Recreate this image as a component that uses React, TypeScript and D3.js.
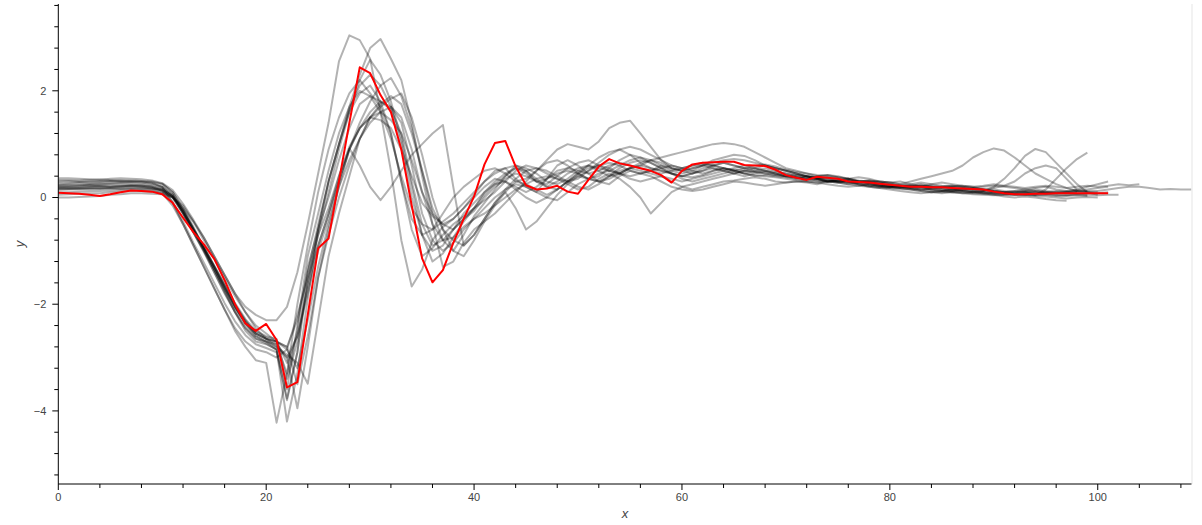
import { useMemo } from "react";
import * as d3 from "d3";

const WIDTH = 1202;
const HEIGHT = 525;
const MARGIN = { top: 4, right: 10.5, bottom: 41, left: 58.3 };

const X_DOMAIN: [number, number] = [0, 109.02];
const Y_DOMAIN: [number, number] = [-5.37, 3.627];
const X_TICKS = [0, 20, 40, 60, 80, 100];
const Y_TICKS = [-4, -2, 0, 2];

// gray runs, one value per integer x
const run01 = [
  0.36, 0.36, 0.35, 0.34, 0.33, 0.35, 0.36, 0.35, 0.34, 0.32,
  0.27, 0.14, -0.12, -0.42, -0.75, -1.1, -1.45, -1.8, -2.05, -2.2,
  -2.3, -2.3, -2.05, -1.4, -0.5, 0.45, 1.4, 2.55, 3.04, 2.95,
  2.6, 1.6, 0.5, -0.8, -1.67, -1.35, -0.8, -0.55, -0.4, -0.2,
  0.05, 0.3, 0.5, 0.55, 0.35, 0.2, 0.1, 0.35, 0.6, 0.7,
  0.6, 0.45, 0.3, 0.25, 0.4, 0.5, 0.45, 0.5, 0.6, 0.55,
  0.5, 0.55, 0.6, 0.55, 0.5, 0.45, 0.5, 0.55, 0.5, 0.45,
  0.4, 0.35, 0.4, 0.35, 0.3, 0.28, 0.3, 0.25, 0.22, 0.2,
  0.18, 0.2, 0.22, 0.2, 0.15, 0.12, 0.15, 0.12, 0.1, 0.08,
  0.1, 0.08, 0.05, 0.06, 0.04, 0.05, 0.03, 0.04, 0.06, 0.05,
];
const run02 = [
  0.3, 0.31, 0.3, 0.29, 0.3, 0.31, 0.32, 0.31, 0.3, 0.28,
  0.2, -0.1, -0.5, -0.9, -1.3, -1.7, -2.1, -2.5, -2.8, -3.05,
  -3.1, -4.22, -3.3, -2.0, -0.9, 0.1, 0.9, 1.5, 1.95, 2.2,
  1.95, 1.7, 1.2, 0.3, -0.6, -1.1, -0.95, -0.7, -0.5, -0.35,
  -0.2, 0.05, 0.25, 0.4, 0.6, 0.5, 0.3, 0.2, 0.3, 0.45,
  0.55, 0.6, 0.5, 0.4, 0.45, 0.55, 0.6, 0.7, 0.75, 0.8,
  0.85, 0.9, 0.95, 1.0, 1.02, 1.0, 0.95, 0.85, 0.75, 0.65,
  0.55, 0.5, 0.45, 0.4, 0.42, 0.4, 0.35, 0.3, 0.3, 0.28,
  0.25, 0.22, 0.2, 0.22, 0.2, 0.18, 0.2, 0.22, 0.2, 0.15,
  0.12, 0.1, 0.12, 0.15, 0.18, 0.2, 0.15, 0.12, 0.15, 0.2,
  0.25, 0.3,
];
const run03 = [
  0.25, 0.26, 0.27, 0.26, 0.27, 0.28, 0.29, 0.3, 0.3, 0.28,
  0.25, 0.1, -0.2, -0.55, -0.95, -1.35, -1.75, -2.15, -2.5, -2.7,
  -2.75, -2.85, -4.2, -3.3, -1.9, -0.6, 0.3, 1.0, 1.7, 2.3,
  2.8, 2.97, 2.6, 2.2, 1.4, 0.4, -0.5, -1.3, -1.2, -0.85,
  -0.6, -0.45, -0.3, -0.1, 0.1, 0.3, 0.5, 0.7, 0.9, 1.0,
  0.95, 0.9, 1.05, 1.3, 1.4, 1.44, 1.2, 0.95, 0.7, 0.55,
  0.5, 0.45, 0.5, 0.55, 0.5, 0.45, 0.4, 0.45, 0.5, 0.45,
  0.4, 0.38, 0.35, 0.4, 0.42, 0.38, 0.35, 0.3, 0.32, 0.3,
  0.28, 0.3, 0.25, 0.22, 0.25, 0.28, 0.25, 0.22, 0.2, 0.22,
  0.25, 0.22, 0.2, 0.18, 0.2, 0.22, 0.2, 0.18, 0.2, 0.22,
  0.2, 0.22, 0.25, 0.23, 0.25,
];
const run04 = [
  0.17, 0.18, 0.18, 0.19, 0.2, 0.2, 0.21, 0.22, 0.2, 0.18,
  0.15, 0.02, -0.25, -0.6, -0.95, -1.3, -1.7, -2.05, -2.35, -2.55,
  -2.65, -2.8, -3.0, -3.95, -2.8, -1.5, -0.6, 0.2, 0.9, 1.4,
  1.8, 2.1, 2.24, 1.9, 1.3, 0.5, -0.3, -0.8, -1.0, -0.7,
  -0.35, -0.1, 0.15, 0.4, 0.55, 0.5, 0.35, 0.2, 0.15, 0.3,
  0.45, 0.6, 0.75, 0.85, 0.9, 0.8, 0.65, 0.55, 0.5, 0.45,
  0.4, 0.45, 0.55, 0.6, 0.65, 0.6, 0.55, 0.5, 0.48, 0.45,
  0.42, 0.38, 0.35, 0.32, 0.3, 0.32, 0.35, 0.3, 0.28, 0.25,
  0.22, 0.2, 0.18, 0.2, 0.22, 0.2, 0.16, 0.14, 0.12, 0.1,
  0.08, 0.1, 0.12, 0.1, 0.08, 0.1, 0.12, 0.1, 0.1,
];
const run05 = [
  0.19, 0.2, 0.2, 0.21, 0.22, 0.21, 0.22, 0.23, 0.22, 0.2,
  0.12, -0.08, -0.45, -0.85, -1.22, -1.6, -1.98, -2.32, -2.58, -2.75,
  -2.82, -2.9, -3.77, -2.9, -1.6, -0.7, 0.1, 0.9, 1.6, 2.2,
  2.58, 2.3, 1.8, 1.1, 0.2, -0.7, -1.2, -1.05, -0.75, -0.45,
  -0.2, 0.1, 0.3, 0.45, 0.55, 0.45, 0.3, 0.25, 0.4, 0.55,
  0.65, 0.7, 0.6, 0.5, 0.45, 0.55, 0.65, 0.7, 0.65, 0.55,
  0.5, 0.55, 0.6, 0.65, 0.7, 0.72, 0.7, 0.65, 0.6, 0.55,
  0.5, 0.45, 0.4, 0.38, 0.35, 0.3, 0.32, 0.3, 0.28, 0.25,
  0.22, 0.2, 0.18, 0.15, 0.17, 0.2, 0.22, 0.2, 0.18, 0.15,
  0.12, 0.1, 0.08, 0.1, 0.05, 0.15, 0.35, 0.55, 0.72, 0.84,
];
const run06 = [
  0.14, 0.15, 0.15, 0.16, 0.16, 0.17, 0.18, 0.17, 0.16, 0.15,
  0.12, 0.0, -0.3, -0.65, -1.0, -1.35, -1.7, -2.05, -2.35, -2.6,
  -2.7, -2.8, -2.95, -3.1, -3.49, -2.3, -1.1, -0.3, 0.4, 1.1,
  1.5, 1.7, 1.85, 1.95, 1.5, 0.8, 0.0, -0.6, -1.0, -1.1,
  -0.8, -0.45, -0.15, 0.1, 0.3, 0.25, 0.15, 0.05, 0.15, 0.3,
  0.4, 0.35, 0.3, 0.35, 0.45, 0.55, 0.6, 0.55, 0.5, 0.45,
  0.4, 0.45, 0.5, 0.6, 0.65, 0.6, 0.55, 0.55, 0.6, 0.55,
  0.5, 0.45, 0.4, 0.35, 0.3, 0.28, 0.25, 0.28, 0.3, 0.25,
  0.22, 0.2, 0.22, 0.25, 0.2, 0.15, 0.12, 0.15, 0.18, 0.15,
  0.12, 0.1, 0.08, 0.1, 0.12, 0.1, 0.08, 0.1, 0.12, 0.1,
  0.1,
];
const run07 = [
  0.17, 0.17, 0.18, 0.18, 0.17, 0.18, 0.19, 0.2, 0.19, 0.17,
  0.13, 0.0, -0.3, -0.65, -1.0, -1.4, -1.8, -2.15, -2.45, -2.65,
  -2.7, -2.75, -3.3, -2.5, -1.3, -0.6, 0.0, 0.7, 1.3, 1.75,
  1.9, 1.8, 1.65, 1.2, 0.3, -0.5, -0.9, -0.8, -0.6, -0.4,
  -0.25, 0.0, 0.2, 0.35, 0.45, 0.4, 0.3, 0.35, 0.45, 0.5,
  0.45, 0.35, 0.3, 0.4, 0.5, 0.55, 0.5, 0.45, 0.4, 0.35,
  0.3, 0.35, 0.4, 0.45, 0.5, 0.55, 0.6, 0.55, 0.5, 0.48,
  0.45, 0.42, 0.4, 0.38, 0.35, 0.3, 0.28, 0.25, 0.22, 0.2,
  0.18, 0.16, 0.15, 0.12, 0.1, 0.08, 0.1, 0.12, 0.1, 0.08,
  0.05, 0.02, 0.0, 0.02, 0.0, -0.03, -0.05, -0.06,
];
const run08 = [
  0.05, 0.06, 0.07, 0.08, 0.08, 0.1, 0.11, 0.12, 0.12, 0.11,
  0.09, 0.0, -0.2, -0.45, -0.75, -1.1, -1.45, -1.8, -2.15, -2.45,
  -2.65, -2.75, -3.0, -2.6, -1.8, -1.0, -0.4, 0.3, 0.9, 1.3,
  1.6, 1.8, 1.7, 1.5, 0.9, 0.1, -0.5, -0.8, -0.75, -0.55,
  -0.4, -0.2, 0.0, 0.15, 0.25, 0.2, 0.1, 0.0, -0.05, 0.1,
  0.25, 0.35, 0.45, 0.5, 0.45, 0.4, 0.45, 0.5, 0.55, 0.6,
  0.55, 0.5, 0.45, 0.5, 0.55, 0.5, 0.45, 0.4, 0.42, 0.4,
  0.38, 0.35, 0.32, 0.35, 0.38, 0.35, 0.3, 0.28, 0.25, 0.22,
  0.2, 0.18, 0.2, 0.22, 0.2, 0.18, 0.15, 0.12, 0.1, 0.12,
  0.15, 0.12, 0.1, 0.12, 0.15, 0.12, 0.1, 0.08, 0.1, 0.12,
  0.12, 0.15, 0.18, 0.2, 0.2, 0.18, 0.15, 0.16, 0.15, 0.15,
];
const run09 = [
  0.23, 0.24, 0.24, 0.25, 0.25, 0.26, 0.27, 0.27, 0.26, 0.24,
  0.2, 0.05, -0.25, -0.6, -0.95, -1.3, -1.65, -2.0, -2.3, -2.55,
  -2.65, -2.7, -2.8, -2.3, -1.4, -0.7, -0.2, 0.4, 0.92, 0.6,
  0.2, -0.05, 0.2, 0.5, 0.8, 1.0, 1.2, 1.36, 0.2, -0.9,
  -0.7, -0.4, -0.1, 0.1, -0.2, -0.6, -0.45, -0.2, 0.05, 0.25,
  0.4, 0.5, 0.6, 0.65, 0.6, 0.5, 0.45, 0.4, 0.3, 0.2,
  0.15, 0.12, 0.15, 0.2, 0.25, 0.3, 0.28, 0.25, 0.22, 0.25,
  0.28, 0.3, 0.28, 0.25, 0.3, 0.35, 0.3, 0.25, 0.2, 0.18,
  0.2, 0.22, 0.18, 0.15, 0.12, 0.1, 0.12, 0.15, 0.12, 0.1,
  0.08, 0.06, 0.05, 0.04, 0.05, 0.06, 0.04, 0.03, 0.04, 0.03,
];
const run10 = [
  0.28, 0.28, 0.29, 0.3, 0.3, 0.31, 0.3, 0.29, 0.28, 0.26,
  0.2, 0.05, -0.28, -0.62, -0.98, -1.35, -1.72, -2.08, -2.38, -2.6,
  -2.7, -2.85, -3.6, -2.4, -1.1, -0.3, 0.5, 1.2, 1.7, 2.0,
  1.9, 1.6, 1.1, 0.4, -0.2, -0.5, -0.6, -0.45, -0.3, -0.1,
  0.1, 0.3, 0.45, 0.55, 0.6, 0.55, 0.45, 0.3, 0.25, 0.35,
  0.5, 0.6, 0.55, 0.5, 0.6, 0.7, 0.75, 0.7, 0.6, 0.5,
  0.45, 0.5, 0.6, 0.7, 0.75, 0.8, 0.78, 0.7, 0.6, 0.55,
  0.5, 0.45, 0.4, 0.35, 0.3, 0.32, 0.35, 0.38, 0.35, 0.3,
  0.28, 0.25, 0.3, 0.35, 0.4, 0.45, 0.5, 0.6, 0.75, 0.85,
  0.92, 0.88, 0.75, 0.6, 0.45, 0.35, 0.25, 0.18, 0.12, 0.1,
  0.08, 0.1,
];
const run11 = [
  0.0, 0.0, 0.01, 0.02, 0.03, 0.05, 0.06, 0.08, 0.08, 0.07,
  0.06, 0.0, -0.15, -0.45, -0.8, -1.15, -1.5, -1.85, -2.15, -2.4,
  -2.55, -2.7, -2.85, -3.2, -2.3, -1.3, -0.5, 0.2, 0.7, 1.1,
  1.4, 1.6, 1.7, 1.4, 0.6, -0.3, -0.8, -1.0, -0.85, -0.6,
  -0.4, -0.3, -0.15, 0.0, 0.15, 0.25, 0.35, 0.4, 0.35, 0.25,
  0.15, 0.2, 0.35, 0.45, 0.35, 0.2, 0.0, -0.3, -0.1, 0.1,
  0.2, 0.25, 0.3, 0.35, 0.4, 0.45, 0.5, 0.48, 0.45, 0.42,
  0.4, 0.38, 0.35, 0.32, 0.3, 0.28, 0.25, 0.22, 0.2, 0.18,
  0.15, 0.12, 0.1, 0.08, 0.1, 0.12, 0.1, 0.08, 0.1, 0.12,
  0.2, 0.35, 0.55, 0.78, 0.91, 0.85, 0.65, 0.45, 0.25, 0.1,
  0.05,
];
const run12 = [
  0.33, 0.33, 0.32, 0.33, 0.34, 0.33, 0.32, 0.32, 0.31, 0.3,
  0.26, 0.1, -0.22, -0.58, -0.92, -1.28, -1.62, -1.98, -2.28, -2.5,
  -2.6, -2.65, -3.4, -2.7, -1.6, -0.6, 0.3, 1.0, 1.6, 1.95,
  2.1, 1.8, 1.2, 0.3, -0.4, -0.7, -0.6, -0.3, 0.0, 0.2,
  0.35, 0.5, 0.55, 0.45, 0.3, 0.35, 0.5, 0.65, 0.7, 0.6,
  0.45, 0.35, 0.4, 0.55, 0.7, 0.8, 0.75, 0.65, 0.55, 0.45,
  0.4, 0.38, 0.42, 0.5, 0.55, 0.5, 0.45, 0.42, 0.4, 0.38,
  0.35, 0.32, 0.3, 0.28, 0.3, 0.32, 0.3, 0.28, 0.25, 0.22,
  0.2, 0.22, 0.25, 0.28, 0.25, 0.22, 0.2, 0.18, 0.15, 0.15,
  0.18, 0.22, 0.3, 0.45, 0.55, 0.6, 0.55, 0.35, 0.15,
];
const run13 = [
  0.2, 0.2, 0.21, 0.22, 0.21, 0.2, 0.21, 0.22, 0.22, 0.2,
  0.16, 0.03, -0.27, -0.6, -0.95, -1.3, -1.68, -2.05, -2.35, -2.55,
  -2.65, -2.7, -3.1, -2.6, -1.7, -0.9, -0.3, 0.4, 0.95, 1.3,
  1.5, 1.6, 1.45, 1.2, 0.7, 0.1, -0.3, -0.5, -0.6, -0.4,
  -0.2, -0.05, 0.1, 0.3, 0.5, 0.6, 0.55, 0.45, 0.35, 0.3,
  0.35, 0.5, 0.65, 0.8, 0.9, 0.95, 0.9, 0.8, 0.7, 0.6,
  0.55, 0.6, 0.65, 0.6, 0.55, 0.5, 0.45, 0.5, 0.55, 0.5,
  0.45, 0.4, 0.38, 0.35, 0.32, 0.3, 0.28, 0.3, 0.32, 0.3,
  0.28, 0.25, 0.22, 0.2, 0.18, 0.2, 0.22, 0.2, 0.18, 0.2,
  0.22, 0.2, 0.18, 0.15, 0.12, 0.1, 0.08, 0.1, 0.12, 0.15,
  0.18, 0.2,
];
const run14 = [
  0.1, 0.1, 0.11, 0.12, 0.12, 0.13, 0.14, 0.15, 0.14, 0.13,
  0.08, -0.15, -0.5, -0.9, -1.3, -1.7, -2.1, -2.45, -2.7, -2.85,
  -2.9, -3.0, -2.85, -2.2, -1.5, -0.9, -0.3, 0.3, 0.9, 1.3,
  1.5, 1.45, 1.3, 0.9, 0.4, -0.1, -0.35, -0.5, -0.4, -0.2,
  0.0, 0.2, 0.35, 0.3, 0.15, 0.0, -0.1, 0.0, 0.15, 0.3,
  0.45, 0.55, 0.6, 0.55, 0.45, 0.35, 0.3, 0.35, 0.4, 0.3,
  0.2, 0.15, 0.2, 0.25, 0.3, 0.32, 0.35, 0.38, 0.35, 0.3,
  0.28, 0.3, 0.3, 0.28, 0.25, 0.22, 0.2, 0.22, 0.25, 0.22,
  0.2, 0.18, 0.15, 0.12, 0.1, 0.12, 0.15, 0.18, 0.15, 0.12,
  0.1, 0.08, 0.1, 0.12, 0.1, 0.08, 0.1, 0.12, 0.14, 0.12,
];
const run15 = [
  0.17, 0.16, 0.16, 0.17, 0.18, 0.17, 0.16, 0.17, 0.18, 0.17,
  0.14, 0.02, -0.25, -0.58, -0.92, -1.28, -1.65, -2.02, -2.32, -2.52,
  -2.62, -2.7, -2.8, -3.5, -2.6, -1.5, -0.7, 0.0, 0.6, 1.1,
  1.5, 1.75, 1.9, 1.75, 1.2, 0.5, -0.2, -0.6, -0.8, -0.9,
  -0.7, -0.4, -0.1, 0.15, 0.35, 0.5, 0.55, 0.5, 0.4, 0.3,
  0.2, 0.15, 0.25, 0.4, 0.55, 0.65, 0.7, 0.65, 0.55, 0.45,
  0.35, 0.3, 0.35, 0.4, 0.45, 0.5, 0.55, 0.6, 0.62, 0.58,
  0.52, 0.48, 0.45, 0.42, 0.4, 0.38, 0.35, 0.32, 0.3, 0.28,
  0.25, 0.22, 0.2, 0.18, 0.15, 0.12, 0.1, 0.08, 0.06, 0.05,
  0.04, 0.05, 0.06, 0.05, 0.03, 0.02, 0.0, -0.02, 0.0, 0.01,
  0.0,
];
const run16 = [
  0.22, 0.22, 0.23, 0.24, 0.24, 0.25, 0.25, 0.24, 0.23, 0.21,
  0.17, 0.02, -0.3, -0.66, -1.02, -1.4, -1.78, -2.14, -2.44, -2.64,
  -2.74, -2.85, -3.8, -2.9, -1.4, -0.5, 0.3, 1.0, 1.65, 2.1,
  2.3, 2.1, 1.7, 1.0, 0.0, -0.7, -1.0, -0.9, -0.6, -0.3,
  -0.1, 0.1, 0.25, 0.3, 0.2, 0.1, 0.2, 0.35, 0.5, 0.55,
  0.5, 0.45, 0.5, 0.6, 0.65, 0.6, 0.55, 0.5, 0.45, 0.5,
  0.55, 0.6, 0.62, 0.6, 0.55, 0.52, 0.5, 0.48, 0.45, 0.42,
  0.4, 0.42, 0.4, 0.36, 0.32, 0.3, 0.32, 0.3, 0.26, 0.22,
  0.2, 0.18, 0.16, 0.15, 0.16, 0.15, 0.12, 0.1, 0.08, 0.07,
  0.06, 0.05, 0.06, 0.08, 0.1, 0.08, 0.06, 0.05, 0.06, 0.05,
  0.04, 0.05, 0.05,
];

// highlighted run
const redRun = [
  0.09, 0.08, 0.07, 0.05, 0.03, 0.06, 0.1, 0.13, 0.12, 0.11,
  0.06, -0.1, -0.38, -0.65, -0.88, -1.15, -1.55, -2.0, -2.36, -2.5,
  -2.37, -2.67, -3.56, -3.46, -2.2, -0.95, -0.77, 0.3, 1.4, 2.44,
  2.33, 1.92, 1.6, 0.9, -0.15, -1.14, -1.59, -1.36, -0.85, -0.4,
  0.02, 0.62, 1.02, 1.06, 0.58, 0.23, 0.15, 0.17, 0.22, 0.11,
  0.07, 0.33, 0.58, 0.72, 0.64, 0.6, 0.55, 0.5, 0.42, 0.28,
  0.5, 0.62, 0.65, 0.66, 0.67, 0.67, 0.61, 0.6, 0.59, 0.52,
  0.42, 0.37, 0.33, 0.39, 0.37, 0.35, 0.3, 0.29, 0.28, 0.26,
  0.24, 0.22, 0.2, 0.2, 0.19, 0.19, 0.18, 0.17, 0.16, 0.15,
  0.11, 0.08, 0.06, 0.06, 0.07, 0.07, 0.08, 0.08, 0.08, 0.08,
  0.08, 0.08,
];

const grayRuns = [
  run01, run02, run03, run04, run05, run06, run07, run08,
  run09, run10, run11, run12, run13, run14, run15, run16,
];

const FONT = "'Liberation Sans', Arial, Helvetica, sans-serif";

export default function App() {
  const boundsWidth = WIDTH - MARGIN.left - MARGIN.right;
  const boundsHeight = HEIGHT - MARGIN.top - MARGIN.bottom;

  const xScale = useMemo(
    () => d3.scaleLinear().domain(X_DOMAIN).range([0, boundsWidth]),
    [boundsWidth]
  );
  const yScale = useMemo(
    () => d3.scaleLinear().domain(Y_DOMAIN).range([boundsHeight, 0]),
    [boundsHeight]
  );

  const lineGen = d3
    .line<number>()
    .x((_, i) => xScale(i))
    .y((d) => yScale(d));

  const xMinor = d3.range(0, 110, 4).filter((v) => v % 20 !== 0);
  const yMinor = d3
    .range(-5.2, 3.61, 0.4)
    .map((v) => Math.round(v * 10) / 10)
    .filter((v) => Math.abs(v / 2 - Math.round(v / 2)) > 1e-6);

  const fmt = d3.format("");

  return (
    <svg
      width={WIDTH}
      height={HEIGHT}
      style={{ position: "absolute", left: 0, top: 0, background: "#fff" }}
    >
      <defs>
        <clipPath id="plot-clip">
          <rect x={0} y={0} width={boundsWidth} height={boundsHeight} />
        </clipPath>
      </defs>
      <g transform={`translate(${MARGIN.left},${MARGIN.top})`}>
        {/* frame outline on the right side */}
        <line
          x1={boundsWidth + 0.5}
          x2={boundsWidth + 0.5}
          y1={0}
          y2={boundsHeight}
          stroke="#e5e5e5"
          strokeWidth={1}
        />

        <g clipPath="url(#plot-clip)">
          {grayRuns.map((run, i) => (
            <path
              key={i}
              d={lineGen(run) ?? ""}
              fill="none"
              stroke="#000"
              strokeOpacity={0.3}
              strokeWidth={2}
              strokeLinejoin="round"
            />
          ))}
          <path
            d={lineGen(redRun) ?? ""}
            fill="none"
            stroke="#ff0000"
            strokeWidth={2}
            strokeLinejoin="round"
          />
        </g>

        {/* left axis */}
        <line x1={0} x2={0} y1={0} y2={boundsHeight} stroke="#000" />
        {yMinor.map((v) => (
          <line key={`ym${v}`} x1={-4} x2={0} y1={yScale(v)} y2={yScale(v)} stroke="#000" />
        ))}
        {Y_TICKS.map((v) => (
          <g key={`y${v}`} transform={`translate(0,${yScale(v)})`}>
            <line x1={-6} x2={0} stroke="#000" />
            <text
              x={-12}
              dy="0.35em"
              textAnchor="end"
              fontFamily={FONT}
              fontSize={11}
              fill="#444"
            >
              {fmt(v)}
            </text>
          </g>
        ))}

        {/* bottom axis */}
        <line x1={0} x2={boundsWidth} y1={boundsHeight} y2={boundsHeight} stroke="#000" />
        {xMinor.map((v) => (
          <line
            key={`xm${v}`}
            x1={xScale(v)}
            x2={xScale(v)}
            y1={boundsHeight}
            y2={boundsHeight + 4}
            stroke="#000"
          />
        ))}
        {X_TICKS.map((v) => (
          <g key={`x${v}`} transform={`translate(${xScale(v)},${boundsHeight})`}>
            <line y1={0} y2={6} stroke="#000" />
            <text
              y={17}
              textAnchor="middle"
              fontFamily={FONT}
              fontSize={11}
              fill="#444"
            >
              {fmt(v)}
            </text>
          </g>
        ))}

        <text
          x={boundsWidth / 2}
          y={boundsHeight + 34}
          textAnchor="middle"
          fontFamily={FONT}
          fontSize={13}
          fontStyle="italic"
          fill="#444"
        >
          x
        </text>
        <text
          transform={`translate(${-34},${boundsHeight / 2}) rotate(-90)`}
          textAnchor="middle"
          fontFamily={FONT}
          fontSize={13}
          fontStyle="italic"
          fill="#444"
        >
          y
        </text>
      </g>
    </svg>
  );
}
